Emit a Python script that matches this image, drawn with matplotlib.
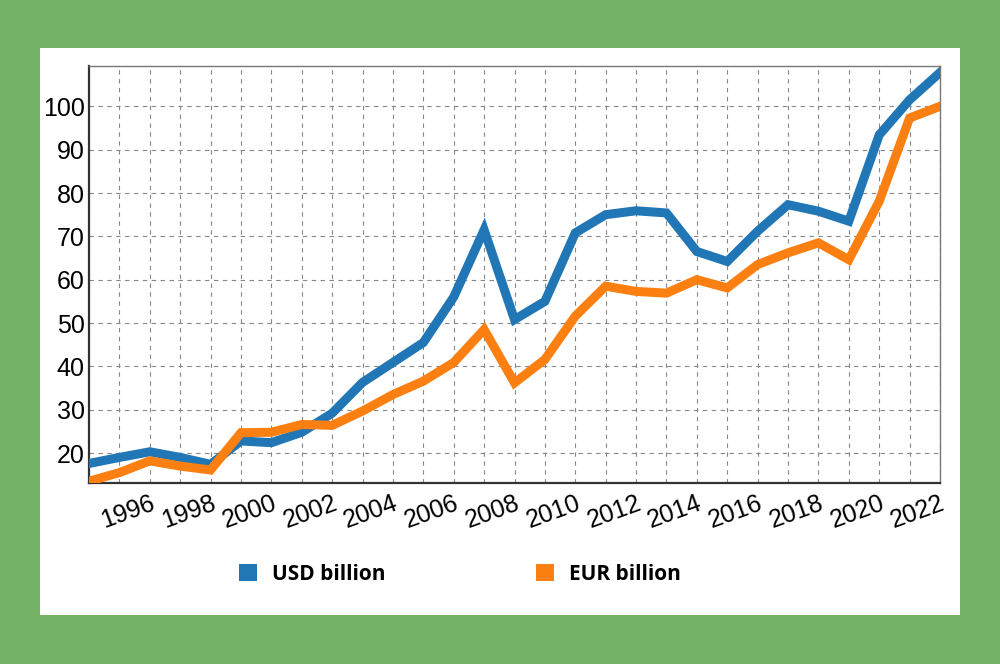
import matplotlib
matplotlib.use("Agg")
import matplotlib.pyplot as plt
from matplotlib.patches import Rectangle, Patch
from matplotlib.ticker import MultipleLocator

years = list(range(1994, 2023))
usd_billion = [17.6, 19.0, 20.3, 19.0, 17.4, 22.8, 22.4, 24.8, 29.2, 36.3,
               40.9, 45.5, 56.0, 71.5, 50.8, 55.0, 70.8, 75.0, 75.9, 75.4,
               66.5, 64.2, 71.2, 77.3, 75.8, 73.5, 93.4, 101.5, 107.8]
eur_billion = [13.5, 15.5, 18.2, 17.0, 16.1, 24.7, 24.8, 26.6, 26.4, 29.7,
               33.5, 36.6, 40.9, 48.5, 36.2, 41.6, 51.6, 58.5, 57.3, 56.9,
               60.0, 58.1, 63.5, 66.2, 68.5, 64.6, 78.1, 97.3, 100.0]
x_ticks = list(range(1996, 2023, 2))
y_ticks = list(range(20, 101, 10))

usd_color = "#2176b5"
eur_color = "#fb8011"

fig = plt.figure(figsize=(10, 6.64), dpi=100)
fig.patch.set_facecolor("#74b265")
# white card behind the chart
fig.patches.append(Rectangle((0.04, 0.0738), 0.92, 0.854, transform=fig.transFigure,
                             facecolor="white", edgecolor="none", zorder=-1))

ax = fig.add_axes([0.089, 0.2726, 0.851, 0.628])
ax.set_facecolor("white")

ax.plot(years, usd_billion, color=usd_color, linewidth=6.5, solid_joinstyle="miter", zorder=3)
ax.plot(years, eur_billion, color=eur_color, linewidth=6.5, solid_joinstyle="miter", zorder=3)

ax.set_xlim(1994, 2022)
ax.set_ylim(13.1, 109.3)
ax.set_xticks(x_ticks)
ax.xaxis.set_minor_locator(MultipleLocator(1))
ax.set_yticks(y_ticks)

ax.grid(True, which="both", axis="x", color="#888888", linestyle=(0, (4, 4)), linewidth=0.8)
ax.grid(True, which="major", axis="y", color="#888888", linestyle=(0, (4, 4)), linewidth=0.8)
ax.tick_params(which="both", length=0)
ax.tick_params(axis="y", labelsize=18, pad=3)
ax.tick_params(axis="x", labelsize=18, pad=6)
for lbl in ax.get_yticklabels():
    lbl.set_fontfamily("Liberation Sans")
for lbl in ax.get_xticklabels():
    lbl.set_fontfamily("Liberation Sans")
    lbl.set_rotation(20)
    lbl.set_ha("right")
    lbl.set_va("top")
    lbl.set_rotation_mode("anchor")

for side in ["left", "bottom"]:
    ax.spines[side].set_color("#333333")
    ax.spines[side].set_linewidth(1.6)
for side in ["top", "right"]:
    ax.spines[side].set_color("#777777")
    ax.spines[side].set_linewidth(1.0)

handles = [Patch(facecolor=usd_color, label="USD billion"),
           Patch(facecolor=eur_color, label="EUR billion")]
fig.legend(handles=handles, loc="center", bbox_to_anchor=(0.46, 0.135), ncol=2,
           frameon=False, handlelength=0.87, handleheight=0.87, handletextpad=0.72,
           columnspacing=7.2, prop={"family": "Open Sans", "weight": "bold", "size": 15})

fig.savefig("out.png", dpi=100, facecolor=fig.get_facecolor())
